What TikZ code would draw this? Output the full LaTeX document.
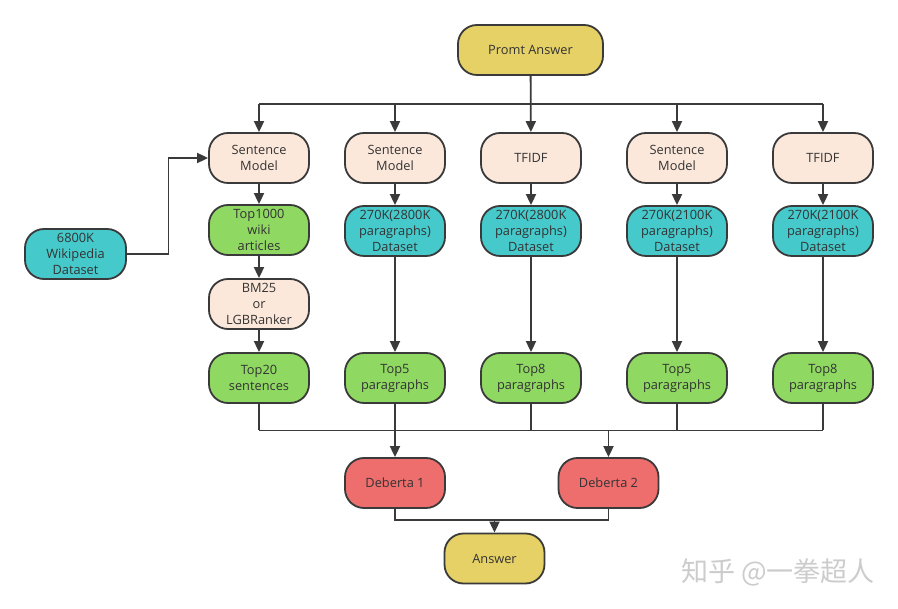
\documentclass[tikz,border=0pt]{standalone}
\usepackage{fontspec}
\setmainfont{Open Sans}
\newfontfamily\cjkfont{Noto Sans CJK SC}
\usetikzlibrary{arrows.meta}
\definecolor{cyel}{HTML}{E6D166}
\definecolor{cbeige}{HTML}{FCE8DA}
\definecolor{cgreen}{HTML}{8FD862}
\definecolor{cteal}{HTML}{46C9CB}
\definecolor{cred}{HTML}{EE6E6D}
\definecolor{cline}{HTML}{3A3A3A}
\definecolor{ctext}{HTML}{333333}
\tikzset{
  box/.style={draw=cline, line width=1.8pt, rounded corners=19pt, minimum width=100pt, minimum height=50pt,
    align=center, inner sep=1pt, text=ctext, font=\fontsize{12.8}{16}\selectfont},
  beige/.style={box, fill=cbeige},
  greenbox/.style={box, fill=cgreen},
  tealbox/.style={box, fill=cteal},
  redbox/.style={box, fill=cred},
  yelbox/.style={box, fill=cyel},
  conn/.style={draw=cline, line width=1.8pt},
  arr/.style={conn, -{Triangle[length=11pt,width=10pt]}},
}
\begin{document}
\begin{tikzpicture}[x=1pt,y=-1pt]
\useasboundingbox (0,0) rectangle (898,609);
\fill[white] (0,0) rectangle (898,609);

\node[yelbox, minimum width=145pt] (pa) at (530.5,50) {Promt Answer};

\node[beige] (s1) at (259,158) {Sentence\\Model};
\node[beige] (s2) at (395,158) {Sentence\\Model};
\node[beige] (s3) at (531,158) {TFIDF};
\node[beige] (s4) at (677,158) {Sentence\\Model};
\node[beige] (s5) at (823,158) {TFIDF};

\node[tealbox, minimum width=101pt] (wiki) at (75.5,254) {6800K\\Wikipedia\\Dataset};

\node[greenbox] (g1) at (259,230) {Top1000\\wiki\\articles};
\node[tealbox] (d2) at (395,231) {270K(2800K\\paragraphs)\\Dataset};
\node[tealbox] (d3) at (531,231) {270K(2800K\\paragraphs)\\Dataset};
\node[tealbox] (d4) at (677,231) {270K(2100K\\paragraphs)\\Dataset};
\node[tealbox] (d5) at (823,231) {270K(2100K\\paragraphs)\\Dataset};

\node[beige] (bm) at (259,304) {BM25\\or\\LGBRanker};

\node[greenbox] (t1) at (259,378) {Top20\\sentences};
\node[greenbox] (t2) at (395,378) {Top5\\paragraphs};
\node[greenbox] (t3) at (531,378) {Top8\\paragraphs};
\node[greenbox] (t4) at (677,378) {Top5\\paragraphs};
\node[greenbox] (t5) at (823,378) {Top8\\paragraphs};

\node[redbox] (db1) at (395,483) {Deberta 1};
\node[redbox] (db2) at (608.5,483) {Deberta 2};

\node[yelbox] (ans) at (494.5,558.5) {Answer};

\node[text=black!20, font=\cjkfont\fontsize{27}{29}\selectfont, anchor=center] (wm) at (778,572) {知乎 @一拳超人};

% top bus
\coordinate (busL) at (259,104);
\coordinate (busR) at (823,104);
\draw[conn] (busL) -- (busR);
\draw[arr] (pa) -- (s3);
\foreach \n in {s1,s2,s4,s5} \draw[arr] (\n |- busL) -- (\n);

% wiki
\draw[arr] (wiki.east) -- ++(41.5,0) |- (s1.west);

% columns
\draw[arr] (s1) -- (g1);
\draw[arr] (g1) -- (bm);
\draw[arr] (bm) -- (t1);
\draw[arr] (s2) -- (d2);
\draw[arr] (s3) -- (d3);
\draw[arr] (s4) -- (d4);
\draw[arr] (s5) -- (d5);
\draw[arr] (d2) -- (t2);
\draw[arr] (d3) -- (t3);
\draw[arr] (d4) -- (t4);
\draw[arr] (d5) -- (t5);

% merge bus
\coordinate (mL) at (259,430.5);
\coordinate (mR) at (823,430.5);
\foreach \n in {t1,t2,t3,t4,t5} \draw[conn] (\n) -- (\n |- mL);
\draw[conn] (mL) -- (mR);
\draw[arr] (db1 |- mL) -- (db1);
\draw[arr] (db2 |- mL) -- (db2);

% join
\coordinate (jn) at (494.5,520);
\draw[conn] (db1) -- (db1 |- jn) -- (db2 |- jn) -- (db2);
\draw[arr] (jn) -- (ans);
\end{tikzpicture}
\end{document}
